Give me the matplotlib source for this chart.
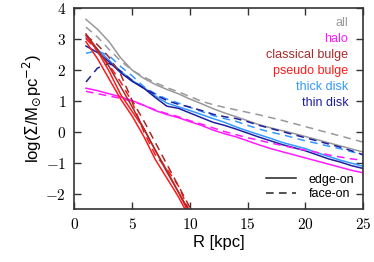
import matplotlib
matplotlib.use("Agg")
import matplotlib.pyplot as plt
from matplotlib.lines import Line2D
from matplotlib.ticker import FuncFormatter, MultipleLocator

plt.rcParams['font.family'] = ['Liberation Sans', 'DejaVu Sans']
plt.rcParams['mathtext.fontset'] = 'cm'

R = list(range(1, 26))
all_edge = [3.62, 3.30, 2.90, 2.38, 1.98, 1.72, 1.52, 1.36, 1.22, 1.05, 0.90, 0.74, 0.60, 0.48, 0.35, 0.22, 0.12, 0.03, -0.06, -0.16, -0.26, -0.36, -0.46, -0.56, -0.66]
all_face = [3.37, 3.05, 2.65, 2.28, 1.98, 1.76, 1.58, 1.42, 1.28, 1.13, 0.98, 0.87, 0.78, 0.70, 0.62, 0.54, 0.45, 0.36, 0.26, 0.16, 0.06, -0.04, -0.14, -0.24, -0.34]
halo_edge = [1.40, 1.32, 1.22, 1.12, 1.00, 0.85, 0.68, 0.55, 0.45, 0.32, 0.20, 0.05, -0.07, -0.17, -0.30, -0.43, -0.55, -0.65, -0.75, -0.85, -0.95, -1.05, -1.15, -1.25, -1.33]
halo_face = [1.30, 1.22, 1.15, 1.07, 0.98, 0.85, 0.70, 0.58, 0.48, 0.35, 0.24, 0.12, 0.00, -0.10, -0.20, -0.28, -0.37, -0.45, -0.53, -0.60, -0.67, -0.75, -0.82, -0.88, -0.93]
thick_edge = [3.02, 2.65, 2.30, 1.95, 1.65, 1.42, 1.15, 0.92, 0.80, 0.68, 0.55, 0.42, 0.30, 0.15, 0.02, -0.10, -0.22, -0.35, -0.45, -0.55, -0.68, -0.80, -0.92, -1.02, -1.12]
thick_face = [2.53, 2.60, 2.45, 2.10, 1.80, 1.45, 1.22, 1.05, 0.92, 0.78, 0.65, 0.52, 0.42, 0.33, 0.20, 0.08, -0.02, -0.10, -0.20, -0.30, -0.38, -0.47, -0.55, -0.65, -0.75]
thin_edge = [2.76, 2.55, 2.25, 1.90, 1.62, 1.40, 1.10, 0.82, 0.75, 0.60, 0.45, 0.30, 0.20, 0.08, -0.05, -0.18, -0.30, -0.42, -0.52, -0.62, -0.75, -0.88, -0.98, -1.10, -1.19]
thin_face = [1.60, 2.05, 2.20, 1.95, 1.65, 1.40, 1.20, 1.00, 0.88, 0.79, 0.68, 0.56, 0.48, 0.42, 0.32, 0.20, 0.10, 0.00, -0.10, -0.20, -0.30, -0.40, -0.50, -0.62, -0.75]

Rb = list(range(1, 12))
classical_edge = [3.15, 2.65, 2.10, 1.45, 0.80, 0.10, -0.60, -1.30, -1.95, -2.60, -3.3]
classical_face = [3.10, 2.80, 2.40, 1.85, 1.00, 0.35, -0.35, -1.05, -1.75, -2.45, -3.2]
pseudo_edge = [2.90, 2.35, 1.70, 1.05, 0.50, -0.15, -0.90, -1.50, -2.10, -2.80, -3.5]
pseudo_edge2 = [3.10, 2.60, 1.95, 1.20, 0.65, 0.10, -0.60, -1.25, -1.95, -2.70, -3.4]
pseudo_face = [3.00, 2.60, 2.15, 1.60, 0.95, 0.00, -0.75, -1.20, -1.75, -2.60, -3.4]

labels = ['all', 'halo', 'classical bulge', 'pseudo bulge', 'thick disk', 'thin disk']
c_all, c_halo, c_cb, c_pb, c_thick, c_thin = '#999999', '#ff1aff', '#a52a2a', '#ff1a1a', '#3399ff', '#1f1f9f'
colors = [c_all, c_halo, c_cb, c_pb, c_thick, c_thin]

fig = plt.figure(figsize=(3.74, 2.62), dpi=100)
ax = fig.add_axes([0.199, 0.202, 0.772, 0.769])

lw = 1.1
dash = (0, (5, 3.5))
ax.plot(R, all_edge, color=c_all, lw=lw)
ax.plot(R, all_face, color=c_all, lw=lw, ls=dash)
ax.plot(R, thick_edge, color=c_thick, lw=lw)
ax.plot(R, thick_face, color=c_thick, lw=lw, ls=dash)
ax.plot(R, thin_edge, color=c_thin, lw=lw)
ax.plot(R, thin_face, color=c_thin, lw=lw, ls=dash)
ax.plot(R, halo_edge, color=c_halo, lw=lw)
ax.plot(R, halo_face, color=c_halo, lw=lw, ls=dash)
ax.plot(Rb, pseudo_edge, color=c_pb, lw=lw)
ax.plot(Rb, pseudo_edge2, color=c_pb, lw=lw)
ax.plot(Rb, pseudo_face, color=c_pb, lw=lw, ls=dash)
ax.plot(Rb, classical_edge, color=c_cb, lw=lw)
ax.plot(Rb, classical_face, color=c_cb, lw=lw, ls=dash)

ax.set_xlim(0, 25)
ax.set_ylim(-2.5, 4)
ax.xaxis.set_major_locator(MultipleLocator(5))
ax.yaxis.set_major_locator(MultipleLocator(1))
fmt = FuncFormatter(lambda v, p: r'$%d$' % round(v))
ax.xaxis.set_major_formatter(fmt)
ax.yaxis.set_major_formatter(fmt)
ax.tick_params(direction='in', length=5, width=1.0, color='#333333', labelsize=11,
               top=True, right=True, pad=6)
for s in ax.spines.values():
    s.set_color('#333333')
    s.set_linewidth(1.2)

ax.set_xlabel('R [kpc]', fontsize=12, labelpad=2)
ax.set_ylabel(r'log($\Sigma$/M$_{\odot}$pc$^{-2}$)', fontsize=12, math_fontfamily='dejavusans', labelpad=2)

ys = [0.923, 0.844, 0.765, 0.685, 0.606, 0.526]
for lab, col, yy in zip(labels, colors, ys):
    ax.text(0.948, yy, lab, color=col, fontsize=9, ha='right', va='center', transform=ax.transAxes)

handles = [Line2D([], [], color='#222222', lw=lw), Line2D([], [], color='#222222', lw=lw, ls=(0, (5, 3.5)))]
ax.legend(handles, ['edge-on', 'face-on'], loc='lower right', bbox_to_anchor=(1.0, 0.0),
          frameon=False, fontsize=9, handlelength=2.4, handletextpad=1.0, labelspacing=0.2,
          borderaxespad=0.3)

fig.savefig('out.png', dpi=100)
